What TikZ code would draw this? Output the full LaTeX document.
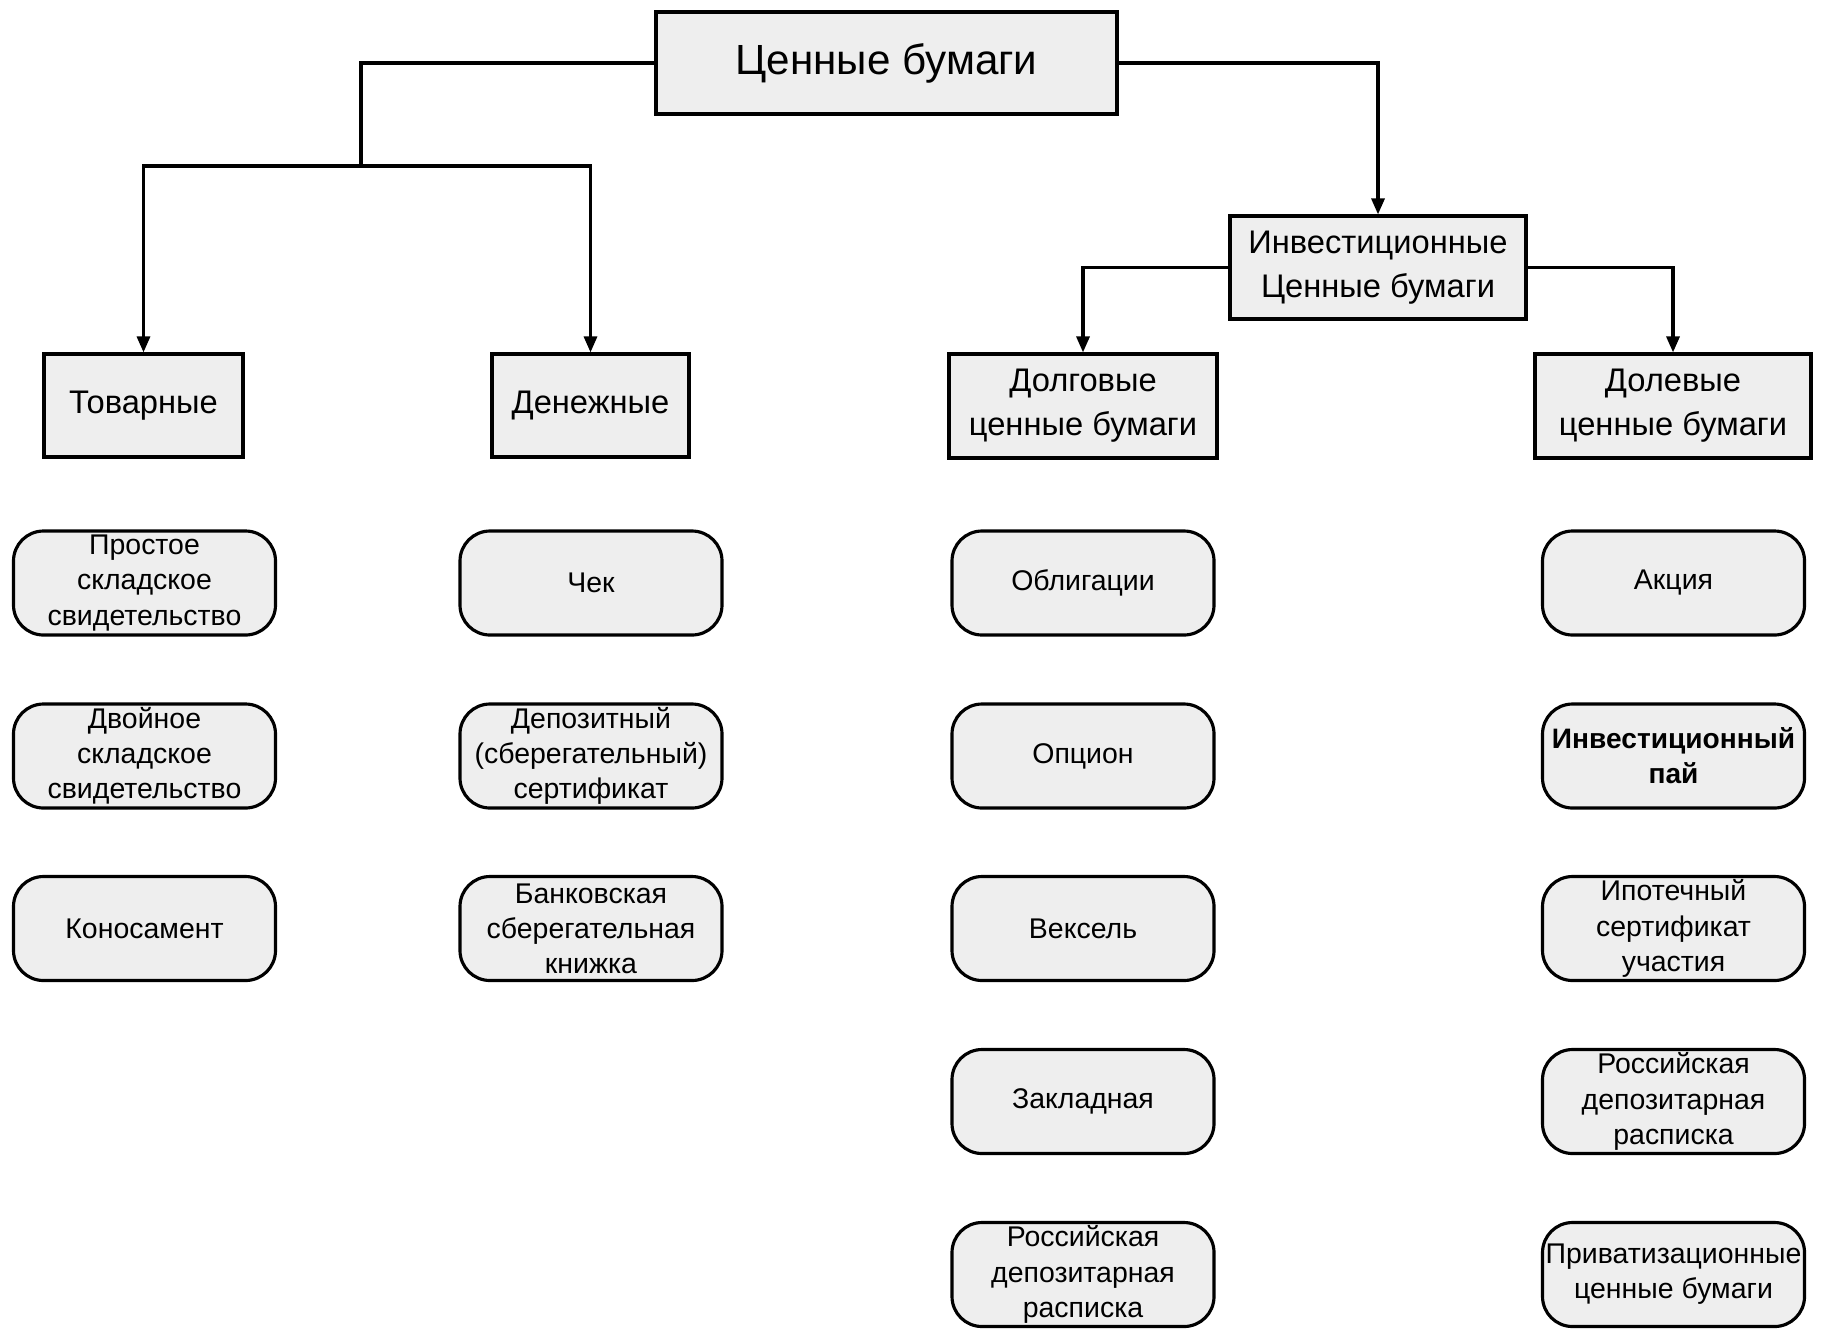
\documentclass[tikz,border=0pt]{standalone}
\usepackage{fontspec}
\setmainfont{Liberation Sans}
\usetikzlibrary{arrows.meta}
\definecolor{boxfill}{HTML}{EEEEEE}
\tikzset{
  catbox/.style={draw=black, line width=0.9pt, fill=boxfill, align=center, inner sep=0pt, font=\fontsize{9.3}{12.5}\selectfont},
  itembox/.style={draw=black, line width=0.9pt, fill=boxfill, rounded corners=0.3cm, align=center, inner sep=0pt,
    minimum width=2.62cm, minimum height=1.04cm, font=\fontsize{8.1}{10}\selectfont},
  link/.style={line width=0.9pt, draw=black},
  arr/.style={link, -{Triangle[length=0.16cm, width=0.13cm]}}
}
\begin{document}
\begin{tikzpicture}
\useasboundingbox (0,0) rectangle (18.25,-13.33);
% category boxes
\node[catbox, minimum width=4.61cm, minimum height=1.02cm, font=\fontsize{12}{15}\selectfont] (top) at (8.865,-0.63) {Ценные бумаги};
\node[catbox, minimum width=1.99cm, minimum height=1.03cm] (tov) at (1.435,-4.055) {Товарные};
\node[catbox, minimum width=1.97cm, minimum height=1.03cm] (den) at (5.905,-4.055) {Денежные};
\node[catbox, minimum width=2.96cm, minimum height=1.03cm] (inv) at (13.78,-2.675) {Инвестиционные\\Ценные бумаги};
\node[catbox, minimum width=2.68cm, minimum height=1.04cm] (dolg) at (10.83,-4.06) {Долговые\\ценные бумаги};
\node[catbox, minimum width=2.76cm, minimum height=1.04cm] (dolev) at (16.73,-4.06) {Долевые\\ценные бумаги};
% connectors
\coordinate (j1) at (3.61,-1.66);
\draw[link] (top.west) -| (j1);
\draw[arr] (j1) -| (tov.north);
\draw[arr] (j1) -| (den.north);
\draw[arr] (top.east) -| (inv.north);
\draw[arr] (inv.west) -| (dolg.north);
\draw[arr] (inv.east) -| (dolev.north);
% column 1
\node[itembox] (t1) at (1.445,-5.83) {Простое\\складское\\свидетельство};
\node[itembox] (t2) at (1.445,-7.56) {Двойное\\складское\\свидетельство};
\node[itembox] (t3) at (1.445,-9.285) {Коносамент};
% column 2
\node[itembox] (d1) at (5.91,-5.83) {Чек};
\node[itembox] (d2) at (5.91,-7.56) {Депозитный\\(сберегательный)\\сертификат};
\node[itembox] (d3) at (5.91,-9.285) {Банковская\\сберегательная\\книжка};
% column 3
\node[itembox] (g1) at (10.83,-5.83) {Облигации};
\node[itembox] (g2) at (10.83,-7.56) {Опцион};
\node[itembox] (g3) at (10.83,-9.285) {Вексель};
\node[itembox] (g4) at (10.83,-11.015) {Закладная};
\node[itembox] (g5) at (10.83,-12.745) {Российская\\депозитарная\\расписка};
% column 4
\node[itembox] (v1) at (16.735,-5.83) {Акция};
\node[itembox, font=\fontsize{8}{10}\selectfont\bfseries] (v2) at (16.735,-7.56) {Инвестиционный\\пай};
\node[itembox] (v3) at (16.735,-9.285) {Ипотечный\\сертификат\\участия};
\node[itembox] (v4) at (16.735,-11.015) {Российская\\депозитарная\\расписка};
\node[itembox] (v5) at (16.735,-12.745) {Приватизационные\\ценные бумаги};
\end{tikzpicture}
\end{document}
